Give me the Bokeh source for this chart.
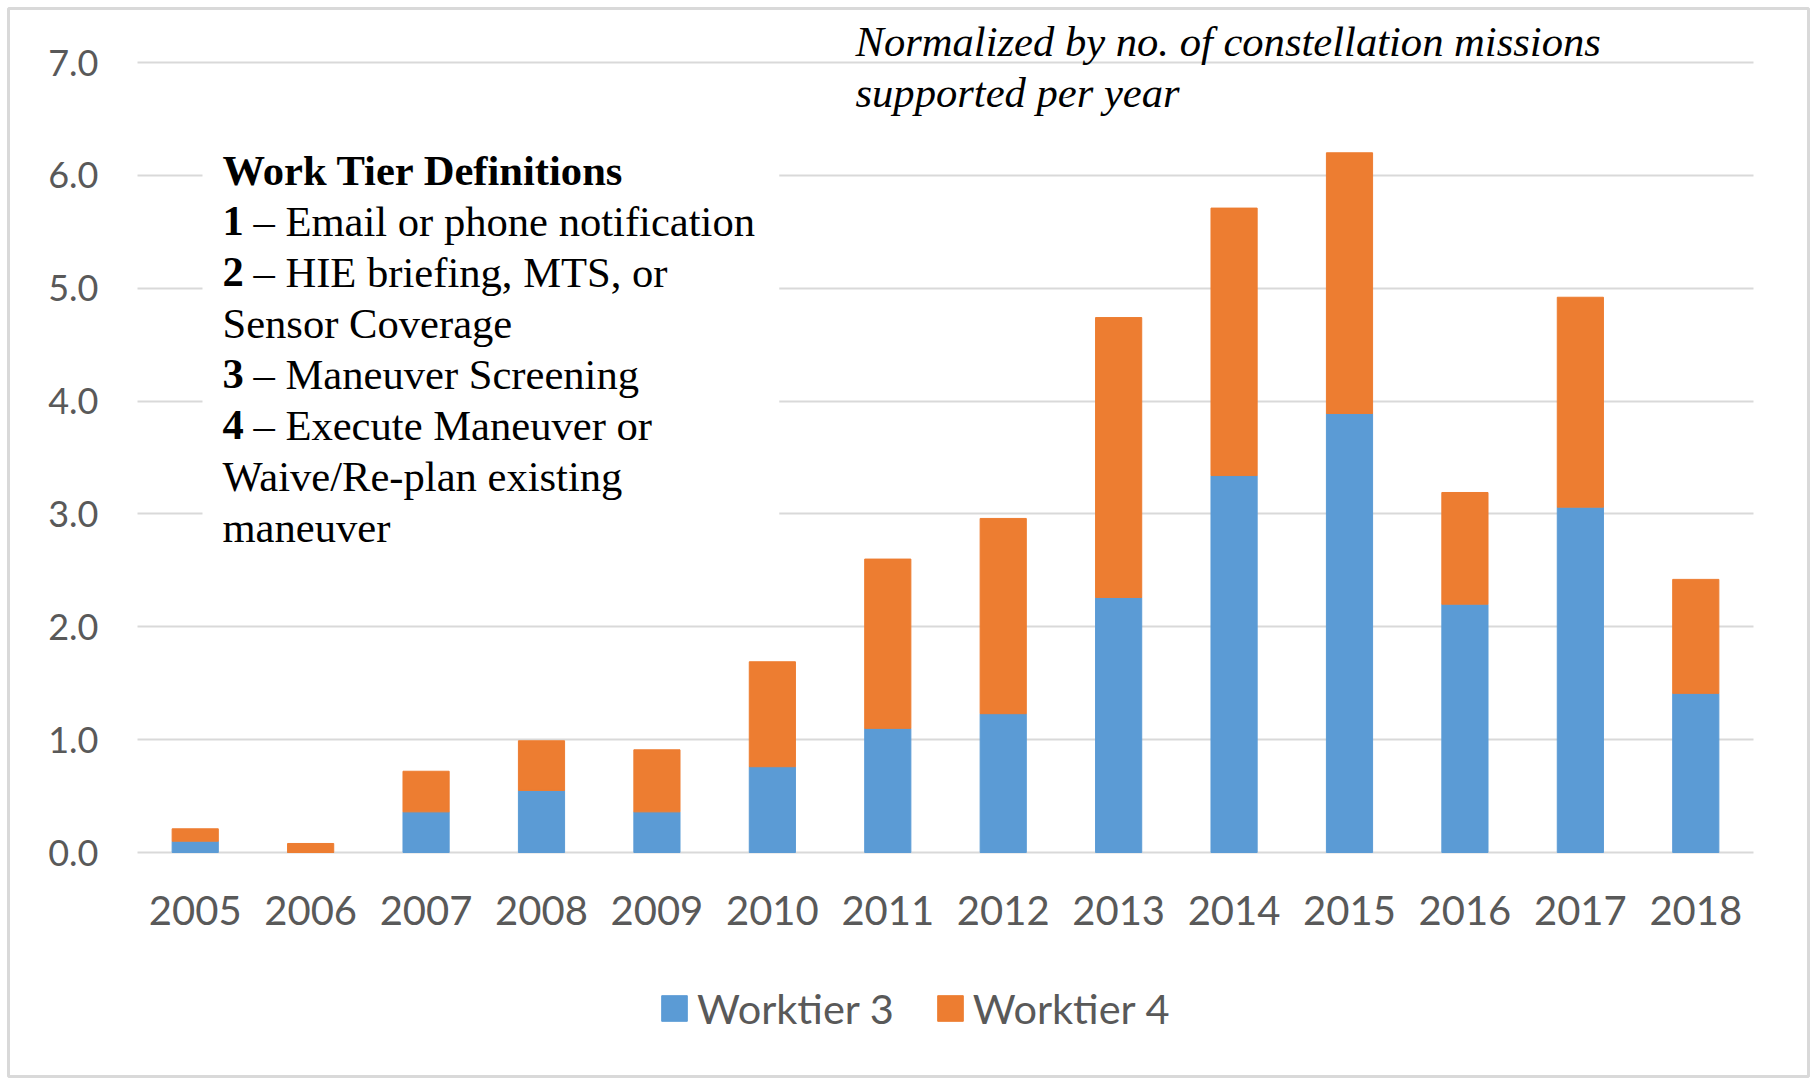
from bokeh.plotting import figure
from bokeh.models import (ColumnDataSource, Range1d, FixedTicker, NumeralTickFormatter,
                          Label, BoxAnnotation, Legend, LegendItem, Grid)
from bokeh.embed import file_html
from bokeh.resources import INLINE

years = ["2005", "2006", "2007", "2008", "2009", "2010", "2011",
         "2012", "2013", "2014", "2015", "2016", "2017", "2018"]
worktier3 = [0.10, 0.00, 0.36, 0.55, 0.36, 0.76, 1.10, 1.23, 2.26, 3.34, 3.89, 2.20, 3.06, 1.41]
worktier4 = [0.11, 0.08, 0.36, 0.44, 0.55, 0.93, 1.50, 1.73, 2.48, 2.37, 2.31, 0.99, 1.86, 1.01]
series_names = ["Worktier 3", "Worktier 4"]
y_ticks = [0, 1, 2, 3, 4, 5, 6, 7]

BLUE = "#5B9BD5"
ORANGE = "#ED7D31"
GRAY_TXT = "#595959"
GRID = "#d9d9d9"

xpos = list(range(len(years)))
source = ColumnDataSource(dict(x=xpos, wt3=worktier3, wt4=worktier4))

W, H = 1810, 1078
p = figure(width=W, height=H, x_range=Range1d(-1.6176, 13.9765), y_range=Range1d(-1.9848, 7.4785),
           output_backend="svg", toolbar_location=None,
           min_border_left=8, min_border_right=2, min_border_top=8, min_border_bottom=2)
p.outline_line_color = "#d9d9d9"
p.outline_line_width = 3
p.background_fill_color = "white"
p.border_fill_color = "white"

renderers = p.vbar_stack(["wt3", "wt4"], x="x", width=0.40, color=[BLUE, ORANGE],
                         source=source)

# axes placed inside the frame at the category span / zero line
p.xaxis.fixed_location = 0
p.yaxis.fixed_location = -0.5
p.xaxis.ticker = FixedTicker(ticks=xpos)
p.xaxis.major_label_overrides = {i: y for i, y in zip(xpos, years)}
p.yaxis.ticker = FixedTicker(ticks=y_ticks)
p.yaxis.formatter = NumeralTickFormatter(format="0.0")
for ax in (p.xaxis, p.yaxis):
    ax.axis_line_color = None
    ax.major_tick_line_color = None
    ax.minor_tick_line_color = None
    ax.major_label_text_font = "Lato"
    ax.major_label_text_color = GRAY_TXT
p.yaxis.major_label_text_font_size = "36px"
p.xaxis.major_label_text_font_size = "40px"
p.yaxis.major_label_standoff = 33
p.xaxis.major_label_standoff = 37

p.xgrid.grid_line_color = None
yg = p.ygrid[0]
yg.ticker = FixedTicker(ticks=y_ticks)
yg.grid_line_color = GRID
yg.grid_line_width = 2
if "cross_bounds" in Grid.properties():
    yg.cross_bounds = (-0.5, 13.5)

# legend
lg = Legend(items=[LegendItem(label=series_names[i], renderers=[renderers[i]]) for i in range(2)],
            orientation="horizontal", location=(650, 43))
lg.border_line_color = None
lg.background_fill_alpha = 0
lg.padding = 0
lg.margin = 0
lg.spacing = 40
lg.label_standoff = 7
lg.glyph_width = 32
lg.glyph_height = 32
lg.label_text_font = "Lato"
lg.label_text_font_size = "41.5px"
lg.label_text_color = GRAY_TXT
p.add_layout(lg, "center")

# white text box for tier definitions
p.add_layout(BoxAnnotation(left=0.063, right=5.06, bottom=2.5, top=6.4,
                           fill_color="white", fill_alpha=1.0, line_color=None,
                           level="underlay"))

SERIF = "Liberation Serif"
FS = "42.6px"
x0 = 0.236
y0 = 6.045
step = 0.452

def txt(x, y, t, bold=False, italic=False, xoff=0):
    style = "normal"
    if bold:
        style = "bold"
    if italic:
        style = "italic"
    p.add_layout(Label(x=x, y=y, text=t, x_offset=xoff, text_font=SERIF, text_font_size=FS,
                       text_font_style=style, text_color="black", text_baseline="alphabetic",
                       text_align="left"))

txt(x0, y0, "Work Tier Definitions", bold=True)
rows = [("1", "– Email or phone notification"),
        ("2", "– HIE briefing, MTS, or"),
        (None, "Sensor Coverage"),
        ("3", "– Maneuver Screening"),
        ("4", "– Execute Maneuver or"),
        (None, "Waive/Re-plan existing"),
        (None, "maneuver")]
for i, (num, rest) in enumerate(rows):
    yy = y0 - (i + 1) * step
    if num:
        txt(x0, yy, num, bold=True)
        txt(x0, yy, rest, xoff=31)
    else:
        txt(x0, yy, rest)

txt(5.72, 7.19, "Normalized by no. of constellation missions", italic=True)
txt(5.72, 6.73, "supported per year", italic=True)

open("out.html", "w").write(file_html(p, INLINE))
